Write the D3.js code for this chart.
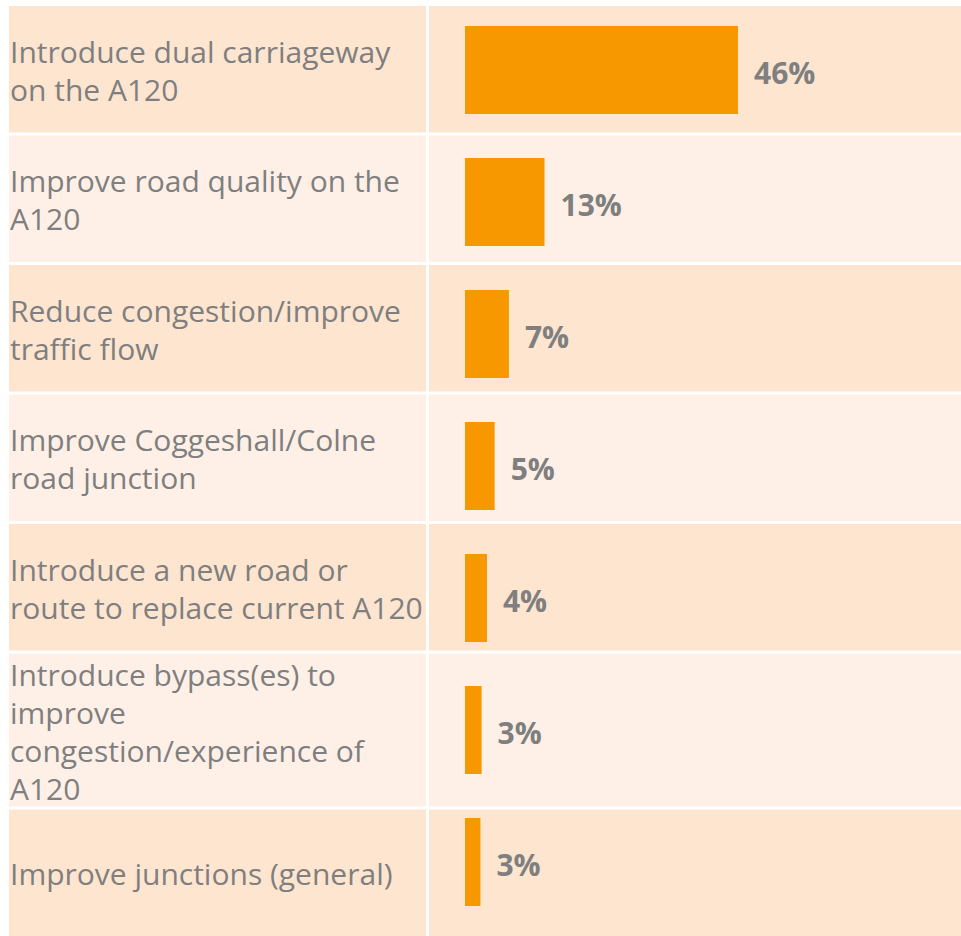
<!DOCTYPE html>
<html>
<head>
<meta charset="utf-8">
<script src="https://cdn.jsdelivr.net/npm/d3@7"></script>
<style>
  body { margin: 0; background: #fff; }
</style>
</head>
<body>
<div id="chart"></div>
<script>
// Data
var categories = [
    ["Introduce dual carriageway", "on the A120"],
    ["Improve road quality on the", "A120"],
    ["Reduce congestion/improve", "traffic flow"],
    ["Improve Coggeshall/Colne", "road junction"],
    ["Introduce a new road or", "route to replace current A120"],
    ["Introduce bypass(es) to", "improve", "congestion/experience of", "A120"],
    ["Improve junctions (general)"]
];
// bar lengths; labels are the rounded values printed
var values = [46, 13.4, 7.4, 5.0, 3.7, 2.8, 2.6];
var valueLabels = ["46%", "13%", "7%", "5%", "4%", "3%", "3%"];

// Dimensions
var width = 961, height = 936;
var marginLeft = 9, marginTop = 6, gap = 3;
var divider = 426, rightStart = 429;
var lineH = 38, minRowH = 126.5;

var svg = d3.select("#chart")
  .append("svg")
    .attr("width", width)
    .attr("height", height);

// table row layout
var rows = [];
var yPos = marginTop;
categories.forEach(function(c, i) {
    var h = Math.max(minRowH, c.length * lineH + 1);
    rows.push({lines: c, y: yPos, h: h, i: i});
    yPos += h + gap;
});

var g = svg.selectAll("g.row")
    .data(rows)
  .enter().append("g")
    .attr("class", "row")
    .attr("transform", function(d) { return "translate(0," + d.y + ")"; });

// backgrounds
g.append("rect")
    .attr("x", marginLeft)
    .attr("width", divider - marginLeft)
    .attr("height", function(d) { return d.h; })
    .attr("fill", function(d) { return d.i % 2 === 0 ? "#fde5d0" : "#fef0e7"; });

g.append("rect")
    .attr("x", rightStart)
    .attr("width", width - rightStart)
    .attr("height", function(d) { return d.h; })
    .attr("fill", function(d) { return d.i % 2 === 0 ? "#fde5d0" : "#fef0e7"; });

// category text
g.append("text")
    .attr("font-family", "'Open Sans', sans-serif")
    .attr("font-size", 30)
    .attr("fill", "#7f7f7f")
    .each(function(d) {
        var t = d3.select(this);
        var n = d.lines.length;
        d.lines.forEach(function(line, k) {
            t.append("tspan")
                .attr("x", 10)
                .attr("y", d.h / 2 + 2 + (k - (n - 1) / 2) * lineH)
                .attr("dy", "0.35em")
                .text(line);
        });
    });

// bar chart sits over the right column, evenly spaced
var x = d3.scaleLinear()
    .domain([0, 46])
    .range([0, 273]);

var y = d3.scaleBand()
    .domain(d3.range(values.length))
    .range([4, 928])
    .paddingInner(1 / 3)
    .paddingOuter(1 / 6);

var barX = 465;

svg.append("g")
  .selectAll("rect")
    .data(values)
  .enter().append("rect")
    .attr("x", barX)
    .attr("y", function(d, i) { return y(i); })
    .attr("width", function(d) { return x(d); })
    .attr("height", y.bandwidth())
    .attr("fill", "#f79800");

// value labels
svg.append("g")
  .selectAll("text")
    .data(values)
  .enter().append("text")
    .attr("x", function(d) { return barX + x(d) + 16; })
    .attr("y", function(d, i) { return y(i) + y.bandwidth() / 2 + 3; })
    .attr("dy", "0.35em")
    .attr("font-family", "'Open Sans', sans-serif")
    .attr("font-weight", "bold")
    .attr("font-size", 30)
    .attr("fill", "#7f7f7f")
    .text(function(d, i) { return valueLabels[i]; });
</script>
</body>
</html>
